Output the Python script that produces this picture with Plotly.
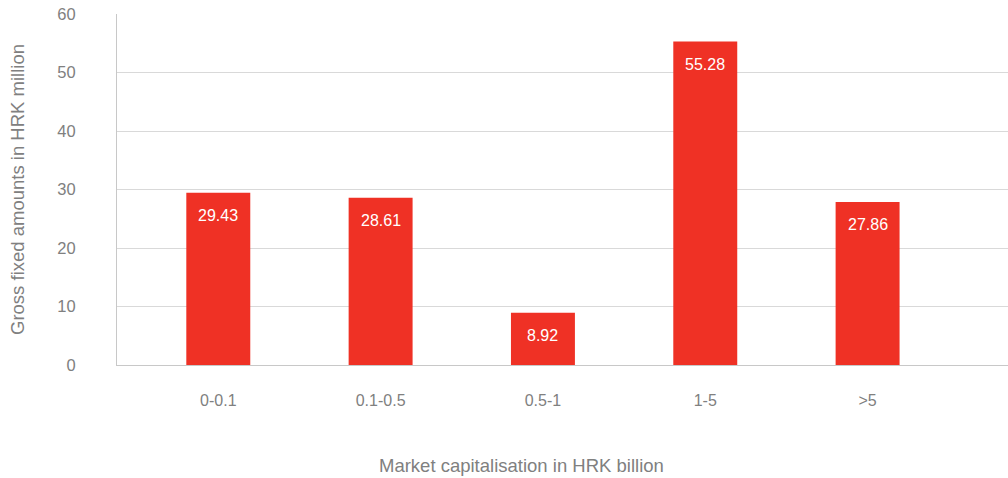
import plotly.graph_objects as go

# Gross fixed amounts by market capitalisation bracket
categories = ["0-0.1", "0.1-0.5", "0.5-1", "1-5", ">5"]
values = [29.43, 28.61, 8.92, 55.28, 27.86]
y_ticks = [0, 10, 20, 30, 40, 50, 60]

RED = "#EF3125"
GREY_TEXT = "#808080"
FONT = "Liberation Sans, Arial, sans-serif"

x_pos = list(range(len(categories)))

fig = go.Figure(
    go.Bar(
        x=x_pos,
        y=values,
        width=0.394,
        marker=dict(color=RED, line=dict(width=0)),
        hoverinfo="skip",
    )
)

# value labels just inside the top of each bar
for xi, v in zip(x_pos, values):
    fig.add_annotation(
        x=xi, y=v, text=f"{v:.2f}",
        showarrow=False, yanchor="top", yshift=-12,
        font=dict(color="white", size=16, family=FONT),
    )

# x-axis title, centred under the category block
fig.add_annotation(
    text="Market capitalisation in HRK billion",
    xref="paper", yref="paper", x=0.4545, y=-0.285,
    xanchor="center", yanchor="middle", showarrow=False,
    font=dict(size=18.5, color=GREY_TEXT, family=FONT),
)

fig.update_layout(
    width=1008,
    height=478,
    margin=dict(l=117, r=0, t=14, b=113),
    paper_bgcolor="white",
    plot_bgcolor="white",
    showlegend=False,
    font=dict(family=FONT, color=GREY_TEXT, size=16),
)

fig.update_xaxes(
    range=[-0.624, 4.865],
    tickmode="array",
    tickvals=x_pos,
    ticktext=categories,
    showgrid=False,
    showline=True,
    linecolor="#c8c8c8",
    linewidth=1,
    ticks="",
    ticklabelstandoff=21,
    tickfont=dict(size=16, color=GREY_TEXT),
    zeroline=False,
    fixedrange=True,
)

fig.update_yaxes(
    range=[0, 60],
    tickmode="array",
    tickvals=y_ticks,
    showgrid=True,
    gridcolor="#d9d9d9",
    gridwidth=1,
    showline=True,
    linecolor="#c8c8c8",
    linewidth=1,
    ticks="",
    ticklabelstandoff=37,
    tickfont=dict(size=16.5, color=GREY_TEXT),
    title=dict(text="Gross fixed amounts in HRK million",
               font=dict(size=18.5, color=GREY_TEXT), standoff=27),
    zeroline=False,
    fixedrange=True,
)

fig.write_html("out.html")
